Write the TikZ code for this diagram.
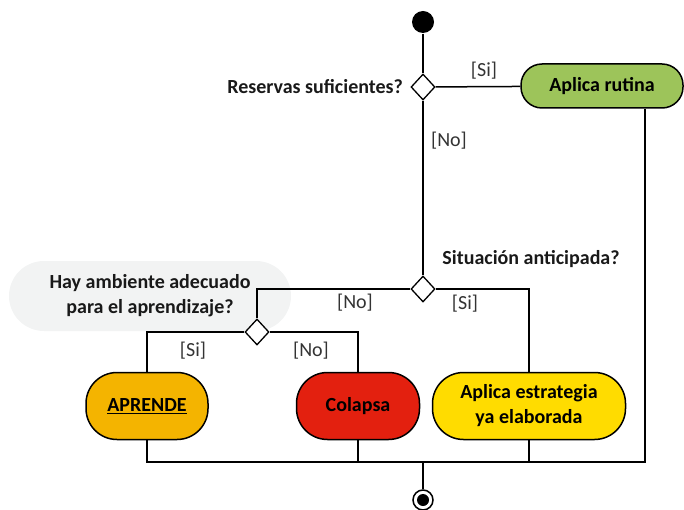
\documentclass[tikz,border=0pt]{standalone}
\usepackage{fontspec}
\setmainfont{Carlito}
\usetikzlibrary{shapes.geometric}
\definecolor{rutina}{HTML}{9DC45A}
\definecolor{aprende}{HTML}{F4B400}
\definecolor{colapsa}{HTML}{E3200F}
\definecolor{estrategia}{HTML}{FFDC00}
\definecolor{bubblegray}{HTML}{F2F3F3}
\begin{document}
\begin{tikzpicture}[x=1pt,y=-1pt,line width=1.5pt,
  font=\fontsize{20}{24}\selectfont,
  decision/.style={diamond,draw,fill=white,minimum width=24pt,minimum height=26pt,inner sep=0pt,line width=1.3pt},
  action/.style={rectangle,draw,line width=1.5pt,align=center,font=\fontsize{20}{25}\selectfont\bfseries},
  pill/.style={action,minimum height=67pt,rounded corners=31pt},
  ask/.style={font=\fontsize{20}{25}\selectfont\bfseries,text=black!90},
  guard/.style={text=black!80},
  bubble/.style={fill=bubblegray,rounded corners=35pt,minimum width=282pt,minimum height=70pt,align=center}]
\useasboundingbox (0,0) rectangle (684,510);

% question bubble behind the inner decision
\node[bubble,ask] (q3) at (150,296) {Hay ambiente adecuado\\para el aprendizaje?};

% initial node and decisions
\node[circle,fill=black,minimum size=22pt,inner sep=0pt] (start) at (423,22) {};
\node[decision] (d1) at (423,87) {};
\node[decision] (d2) at (423,289) {};
\node[decision] (d3) at (257,332) {};

% actions
\node[action,fill=rutina,minimum width=162pt,minimum height=44pt,rounded corners=21pt] (rut) at (602,86) {Aplica rutina};
\node[pill,fill=aprende,minimum width=122pt] (apr) at (147,406) {\underline{APRENDE}};
\node[pill,fill=colapsa,minimum width=123pt] (col) at (358,406) {Colapsa};
\node[pill,fill=estrategia,minimum width=193pt] (est) at (529,406) {Aplica estrategia\\ya elaborada};

% join and final node
\coordinate (j) at (423,462);
\node[circle,draw,fill=white,minimum size=20pt,inner sep=0pt] (end) at (423,500) {};
\fill (end.center) circle (6pt);

% decision texts and guards
\node[ask,anchor=east] (q1) at (407,87) {Reservas suficientes?};
\node[ask] (q2) at (531,259) {Situación anticipada?};
\node[guard] (g1) at (484,71) {[Si]};
\node[guard] (g2) at (449,141) {[No]};
\node[guard] (g3) at (355,303) {[No]};
\node[guard] (g4) at (465,304) {[Si]};
\node[guard] (g5) at (193,351) {[Si]};
\node[guard] (g6) at (311,351) {[No]};

% flows
\draw (start) -- (d1);
\draw (d1) -- (rut);
\draw (d1) -- (d2);
\draw (d2.west) -| (d3.north);
\draw (d2.east) -| (est.north);
\draw (d3.west) -| (apr.north);
\draw (d3.east) -| (col.north);
\draw (apr.south) |- ([xshift=43pt]rut.south |- j) -- ([xshift=43pt]rut.south);
\draw (col.south) -- (col.south |- j);
\draw (est.south) -- (est.south |- j);
\draw (j) -- (end);
\end{tikzpicture}
\end{document}
